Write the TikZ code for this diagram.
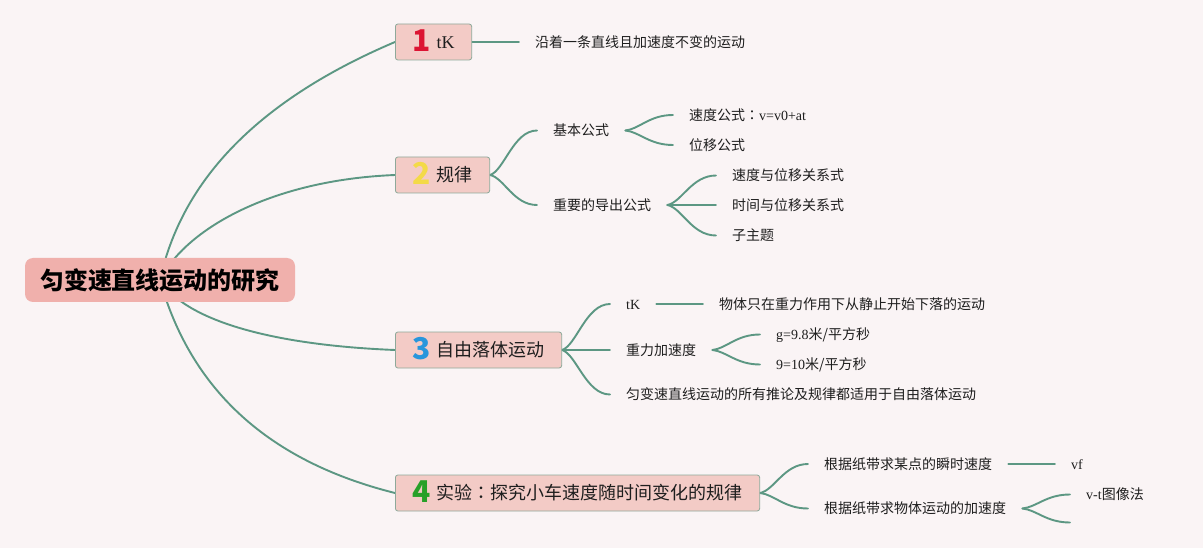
\documentclass[tikz,border=0pt]{standalone}
\usepackage{fontspec}
\setmainfont{Liberation Serif}
\newfontfamily\cjk{Noto Sans CJK SC}
\newfontfamily\cjkjp{Noto Sans CJK JP}
\usetikzlibrary{calc}
\pgfdeclarelayer{bg}
\pgfdeclarelayer{lines}
\pgfsetlayers{bg,lines,main}
\definecolor{bgc}{HTML}{FAF4F5}
\definecolor{linec}{HTML}{5C9783}
\definecolor{rootc}{HTML}{F0B0AC}
\definecolor{boxc}{HTML}{F3CBC6}
\definecolor{boxd}{HTML}{8EA99A}
\definecolor{txt}{HTML}{1E1E1E}
\definecolor{n1}{HTML}{DC1432}
\definecolor{n2}{HTML}{F3DA48}
\definecolor{n3}{HTML}{2896DC}
\definecolor{n4}{HTML}{28A028}
\tikzset{
  link/.style={draw=linec, line width=1.9pt, line cap=round},
  rootnode/.style={fill=rootc, rounded corners=8pt, minimum width=270pt, minimum height=44pt,
    inner sep=0pt, text=black, font=\fontsize{24}{28}\selectfont\cjk\bfseries,
    text height=21.1pt, text depth=2.9pt},
  boxnode/.style={fill=boxc, draw=boxd, line width=0.8pt, rounded corners=2.5pt,
    minimum height=36pt, inner xsep=17pt, inner ysep=0pt, anchor=west, text=txt,
    font=\fontsize{18}{20}\selectfont\cjk, text height=15.8pt, text depth=2.2pt},
  leaf/.style={anchor=west, inner xsep=16pt, inner ysep=2pt, text=txt,
    font=\fontsize{14}{17}\selectfont\cjk, text height=12.3pt, text depth=1.7pt},
}
\newcommand\numtag[2]{{\color{#1}\fontsize{30}{30}\selectfont\cjk\bfseries\raisebox{-3pt}{#2}}\hspace{6pt}}
\newcommand\fwcolon{{\cjkjp ：}}
\newcommand\mmlink[2]{\draw[link] let \p1=(#1), \p2=(#2) in (\p1) .. controls ({\x1+0.3*(\x2-\x1)},{\y1+0.1*(\y2-\y1)}) and ({\x1+0.5*(\x2-\x1)},\y2) .. (\p2);}
\begin{document}
\begin{tikzpicture}[x=1pt,y=-1pt]
\begin{pgfonlayer}{bg}
\fill[bgc] (0,0) rectangle (1203,548);
\end{pgfonlayer}
\useasboundingbox (0,0) rectangle (1203,548);

% root and main topics
\node[rootnode] (root) at (160,280) {匀变速直线运动的研究};
\node[boxnode] (b1) at (395,42) {\numtag{n1}{1}{\rmfamily tK}};
\node[boxnode] (b2) at (395,175) {\numtag{n2}{2}规律};
\node[boxnode] (b3) at (395,350) {\numtag{n3}{3}自由落体运动};
\node[boxnode] (b4) at (395,493) {\numtag{n4}{4}实验\fwcolon 探究小车速度随时间变化的规律};

% branch 1
\node[leaf] (a1) at (519,42) {沿着一条直线且加速度不变的运动};

% branch 2
\node[leaf] (k1) at (537,130.5) {基本公式};
\node[leaf] (k2) at (537,205) {重要的导出公式};
\node[leaf] (k11) at (673,115) {速度公式\fwcolon{\rmfamily v=v0+at}};
\node[leaf] (k12) at (673,145) {位移公式};
\node[leaf] (k21) at (716,175.5) {速度与位移关系式};
\node[leaf] (k22) at (716,205) {时间与位移关系式};
\node[leaf] (k23) at (716,235.5) {子主题};

% branch 3
\node[leaf] (f1) at (610,304) {\rmfamily tK};
\node[leaf] (f2) at (610,350) {重力加速度};
\node[leaf] (f3) at (610,394.5) {匀变速直线运动的所有推论及规律都适用于自由落体运动};
\node[leaf] (f11) at (703,304) {物体只在重力作用下从静止开始下落的运动};
\node[leaf] (f21) at (760,334.5) {{\rmfamily g=9.8}米/平方秒};
\node[leaf] (f22) at (760,364.5) {{\rmfamily 9=10}米/平方秒};

% branch 4
\node[leaf] (e1) at (808,464) {根据纸带求某点的瞬时速度};
\node[leaf] (e2) at (808,508.5) {根据纸带求物体运动的加速度};
\node[leaf] (e11) at (1055,464) {\rmfamily vf};
\node[leaf] (e21) at (1070,494.5) {{\rmfamily v-t}图像法};
\coordinate (e22) at (1070,522.5);

\begin{pgfonlayer}{lines}
\draw[link] (root.center) .. controls (182.1,178.3) and (260.4,99.2) .. (b1.west);
\draw[link] (root.center) .. controls (185,230) and (270,180) .. (b2.west);
\draw[link] (root.center) .. controls (185,320) and (270,345) .. (b3.west);
\draw[link] (root.center) .. controls (190.9,390.6) and (269.3,461.6) .. (b4.west);
\mmlink{b1.east}{a1.west}
\mmlink{b2.east}{k1.west}
\mmlink{b2.east}{k2.west}
\mmlink{k1.east}{k11.west}
\mmlink{k1.east}{k12.west}
\mmlink{k2.east}{k21.west}
\mmlink{k2.east}{k22.west}
\mmlink{k2.east}{k23.west}
\mmlink{b3.east}{f1.west}
\mmlink{b3.east}{f2.west}
\mmlink{b3.east}{f3.west}
\mmlink{f1.east}{f11.west}
\mmlink{f2.east}{f21.west}
\mmlink{f2.east}{f22.west}
\mmlink{b4.east}{e1.west}
\mmlink{b4.east}{e2.west}
\mmlink{e1.east}{e11.west}
\mmlink{e2.east}{e21.west}
\mmlink{e2.east}{e22}
\end{pgfonlayer}
\end{tikzpicture}
\end{document}
